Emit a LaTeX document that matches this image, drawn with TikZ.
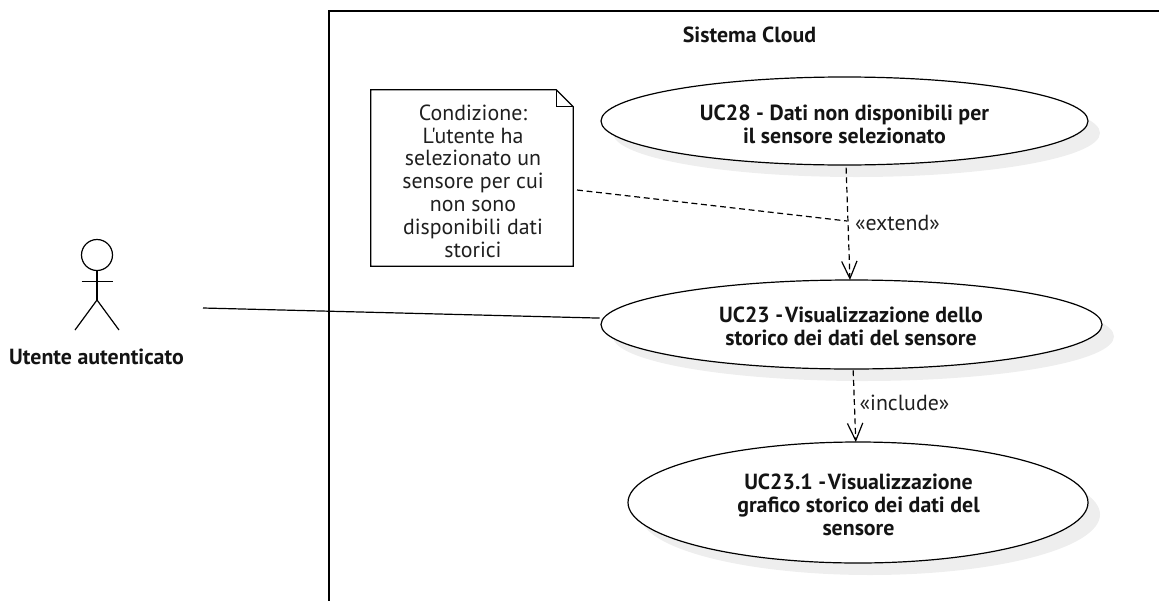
\documentclass[tikz,border=0pt]{standalone}
\usepackage{fontspec}
\setmainfont{PT Sans}
\newfontfamily\ptplain{PT Sans}
\usetikzlibrary{arrows.meta,shapes.geometric}
\tikzset{
  x=0.75pt,y=-0.75pt,
  ln/.style={line width=0.9pt,draw=black},
  dashln/.style={ln,dash pattern=on 4.4pt off 2.8pt},
  dep/.style={dashln,-{Straight Barb[length=13pt,width=11.5pt,line width=0.9pt]}},
  usecase/.style={ellipse,ln,fill=white,inner sep=0pt,outer sep=0pt},
  ucshadow/.style={ellipse,fill=black!6.5,draw=none,inner sep=0pt},
  uctext/.style={font=\fontsize{16.4pt}{17.2pt}\selectfont\bfseries,align=center,inner sep=0pt,text=black!92},
  plain/.style={font=\ptplain\fontsize{16.4pt}{17.1pt}\selectfont,align=center,inner sep=0pt,text=black!88},
}
\begin{document}
\begin{tikzpicture}
\useasboundingbox (0,0) rectangle (1159,600);
% system frame
\draw[ln] (1165,11) -- (329,11) -- (329,606);
\node[uctext] (sys) at (749.5,35) {Sistema Cloud};
% shadows
\node[ucshadow,minimum width=365.25pt,minimum height=66pt] (s28) at (856.5,133) {};
\node[ucshadow,minimum width=375.75pt,minimum height=66.75pt] (s23) at (863.5,336.5) {};
\node[ucshadow,minimum width=345pt,minimum height=90.75pt] (s231) at (870,514.5) {};
% use cases
\node[usecase,minimum width=365.25pt,minimum height=66pt] (uc28) at (844.5,121) {};
\node[usecase,minimum width=375.75pt,minimum height=66.75pt] (uc23) at (851.5,324.5) {};
\node[usecase,minimum width=345pt,minimum height=90.75pt] (uc231) at (858,502.5) {};
\node[uctext] (t28) at (844.5,124.5) {UC28 - Dati non disponibili per\\il sensore selezionato};
\node[uctext] (t23) at (851,326.5) {UC23 - \kern-2.8pt Visualizzazione dello\\storico dei dati del sensore};
\node[uctext] (t231) at (858.5,505) {UC23.1 - \kern-2.8pt Visualizzazione\\grafico storico dei dati del\\sensore};
% note
\node[minimum width=151.5pt,minimum height=132pt,inner sep=0pt] (note) at (472,178) {};
\node[plain] (notetext) at (473,181) {Condizione:\\L'utente ha\\selezionato un\\sensore per cui\\non sono\\disponibili dati\\storici};
\draw[ln] (note.north west) -- ([xshift=-17*0.75pt]note.north east) -- ([yshift=-17*0.75pt]note.north east) -- (note.south east) -- (note.south west) -- cycle;
\draw[ln] ([xshift=-17*0.75pt]note.north east) -- ([xshift=-17*0.75pt,yshift=-17*0.75pt]note.north east) -- ([yshift=-17*0.75pt]note.north east);
% actor
\node[circle,ln,minimum size=23.25pt,inner sep=0pt] (head) at (97,255) {};
\coordinate (hip) at (97,300);
\coordinate (armL) at (81.5,281.7);
\coordinate (armR) at (113,281.7);
\coordinate (legL) at (75,330);
\coordinate (legR) at (119,330);
\draw[ln] (head.south) -- (hip);
\draw[ln] (armL) -- (armR);
\draw[ln] (legL) -- (hip) -- (legR);
\node[uctext] (actor) at (96.5,357) {Utente autenticato};
% connectors
\coordinate (actorEnd) at (203,308);
\draw[ln,shorten >=3pt] (actorEnd) -- (uc23);
\draw[dep,shorten <=2pt] (uc28) -- (uc23);
\draw[dep,shorten <=1pt] (uc23) -- (uc231);
\coordinate (noteStart) at (577,190);
\coordinate (noteEnd) at (847,221);
\draw[dashln] (noteStart) -- (noteEnd);
\node[plain] (lext) at (897.5,223) {«extend»};
\node[plain] (linc) at (904.5,403) {«include»};
\end{tikzpicture}
\end{document}
